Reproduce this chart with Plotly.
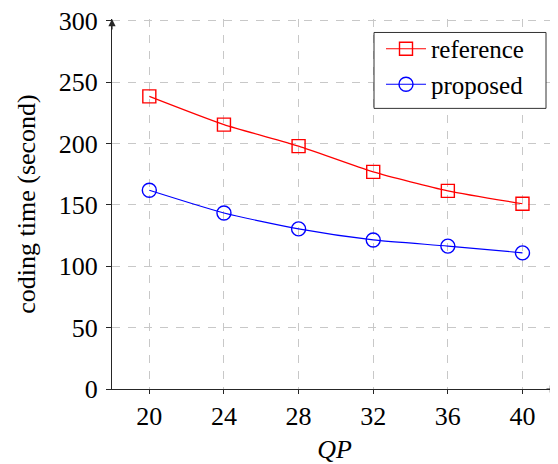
import plotly.graph_objects as go

qp = [20, 24, 28, 32, 36, 40]
reference = [238.5, 215.5, 198, 177, 161.5, 151]
proposed = [162, 143.5, 130.5, 121.5, 116.5, 111]
x_ticks = [20, 24, 28, 32, 36, 40]
y_ticks = [0, 50, 100, 150, 200, 250, 300]

FONT = "Liberation Serif, Times New Roman, serif"
GRID = "#c8c8c8"
AXIS = "#262626"
FS = 26

# page body has an 8px margin; figure sized to fill the rest of the 558x464 window
W, H = 550, 456
ML, MR, MT, MB = 104, 1, 10.5, 75
PW, PH = W - ML - MR, H - MT - MB


def px_x(p):
    return (p - ML) / PW


def px_y(p):
    return (H - MB - p) / PH


fig = go.Figure()
fig.add_trace(go.Scatter(
    x=qp, y=reference, name="reference", mode="lines+markers",
    line=dict(color="#ff0000", width=1.2, shape="spline", smoothing=0.6),
    marker=dict(symbol="square-open", size=13, color="#ff0000",
                line=dict(width=1.4, color="#ff0000")),
))
fig.add_trace(go.Scatter(
    x=qp, y=proposed, name="proposed", mode="lines+markers",
    line=dict(color="#0000ff", width=1.2, shape="spline", smoothing=0.6),
    marker=dict(symbol="circle-open", size=14, color="#0000ff",
                line=dict(width=1.4, color="#0000ff")),
))

fig.update_layout(
    width=W, height=H,
    margin=dict(l=ML, r=MR, t=MT, b=MB, autoexpand=False),
    paper_bgcolor="white", plot_bgcolor="white",
    font=dict(family=FONT, size=FS, color="black"),
    showlegend=True,
    legend=dict(
        x=px_x(373), y=px_y(17.5), xanchor="left", yanchor="top",
        bgcolor="rgba(0,0,0,0)", borderwidth=0,
        font=dict(family=FONT, size=25, color="black"),
        tracegroupgap=0, itemwidth=40,
    ),
    xaxis=dict(
        range=[18, 41.85], tickvals=x_ticks, automargin=False,
        showgrid=True, gridcolor=GRID, griddash="8px,8px", gridwidth=1,
        zeroline=False, showline=True, linecolor=AXIS, linewidth=1.2,
        ticks="outside", ticklen=4, tickcolor=AXIS, tickwidth=1,
        tickfont=dict(family=FONT, size=FS),
        title=dict(text="<i>QP</i>", font=dict(family=FONT, size=FS), standoff=10),
    ),
    yaxis=dict(
        range=[0, 301.6], tickvals=y_ticks, automargin=False,
        showgrid=True, gridcolor=GRID, griddash="8px,8px", gridwidth=1,
        zeroline=False, showline=True, linecolor=AXIS, linewidth=1.2,
        ticks="outside", ticklen=5, tickcolor=AXIS, tickwidth=1,
        tickfont=dict(family=FONT, size=FS),
        ticklabelstandoff=3, ticklabeloverflow="allow",
        title=dict(text="coding time (second)", font=dict(family=FONT, size=FS), standoff=15),
    ),
)

# legend frame
fig.add_shape(type="rect", xref="paper", yref="paper",
              x0=px_x(366), x1=px_x(538), y0=px_y(100), y1=px_y(24),
              line=dict(color="#333333", width=1), fillcolor="white", layer="above")

# axis arrows
fig.add_annotation(x=1, y=0, xref="paper", yref="paper", ax=-12, ay=0,
                   axref="pixel", ayref="pixel", text="", showarrow=True,
                   arrowhead=2, arrowsize=1.2, arrowwidth=1.2, arrowcolor=AXIS)
fig.add_annotation(x=0, y=1, xref="paper", yref="paper", ax=0, ay=12,
                   axref="pixel", ayref="pixel", text="", showarrow=True,
                   arrowhead=2, arrowsize=1.2, arrowwidth=1.2, arrowcolor=AXIS)

fig.write_html("out.html")
